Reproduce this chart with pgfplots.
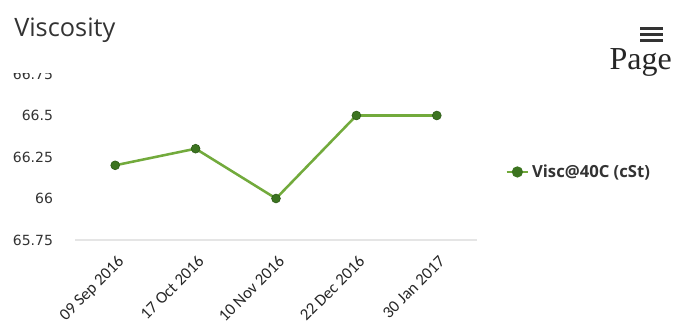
\documentclass[border=0pt]{standalone}
\usepackage{pgfplots}
\pgfplotsset{compat=1.18}
\usepackage{fontspec}
\setmainfont{Open Sans}
\newfontfamily\tickfont{DejaVu Sans}
\newfontfamily\xfont{Carlito}
\newfontfamily\pagefont{Liberation Serif}
\definecolor{lineg}{HTML}{72AA3C}
\definecolor{markg}{HTML}{3C7420}
\definecolor{txt}{HTML}{333333}
\begin{document}
\begin{tikzpicture}
\path[use as bounding box] (0,0) rectangle (508.5pt,-245.25pt);
\begin{axis}[
  at={(56.25pt,-180pt)}, anchor=south west,
  scale only axis, width=301.5pt, height=124.5pt,
  xmin=-0.5, xmax=4.5, ymin=65.75, ymax=66.75,
  xtick={0,1,2,3,4},
  xticklabels={09 Sep 2016,17 Oct 2016,10 Nov 2016,22 Dec 2016,30 Jan 2017},
  ytick={65.75,66,66.25,66.5,66.75},
  yticklabels={65.75,66,66.25,66.5,66.75},
  axis x line*=bottom, axis y line*=left,
  x axis line style={draw=black!10, line width=0.8pt},
  y axis line style={draw=none},
  tick style={draw=none},
  clip=false,
  yticklabel style={font=\tickfont\fontsize{10.5pt}{12pt}\selectfont, text=txt, xshift=-13pt},
  xticklabel style={font=\xfont\fontsize{12.5pt}{15pt}\selectfont, text=black!85,
    xshift=1pt, yshift=-6pt, rotate=45, anchor=north east},
  legend style={at={(1.06,0.41)}, anchor=west, draw=none, fill=none,
    font=\bfseries\fontsize{12.5pt}{14pt}\selectfont, text=txt},
  legend image code/.code={
    \draw[lineg, line width=2pt] (0pt,0pt) -- (16pt,0pt);
    \fill[markg] (8pt,0pt) circle (3.2pt);
  },
]
\addplot[lineg, line width=1.9pt, mark=*, mark size=3.3pt,
  mark options={fill=markg, draw=markg!80!black, line width=0.5pt}]
  coordinates {(0,66.2) (1,66.3) (2,66.0) (3,66.5) (4,66.5)};
\addlegendentry{Visc@40C (cSt)}
\end{axis}
\fill[white] (0pt,-45pt) rectangle (55pt,-55pt);
\node[anchor=base west, inner sep=0pt, text=txt, font=\fontsize{19pt}{22pt}\selectfont] at (10.5pt,-27.5pt) {Viscosity};
\foreach \yy in {20.5,25,29.5}
  \fill[black!80] (480pt,-\yy pt) rectangle (497pt,-\yy pt-2.3pt);
\node[anchor=base west, inner sep=0pt, text=black!85, font=\pagefont\fontsize{24pt}{28pt}\selectfont] at (457pt,-52.5pt) {Page};
\end{tikzpicture}
\end{document}
